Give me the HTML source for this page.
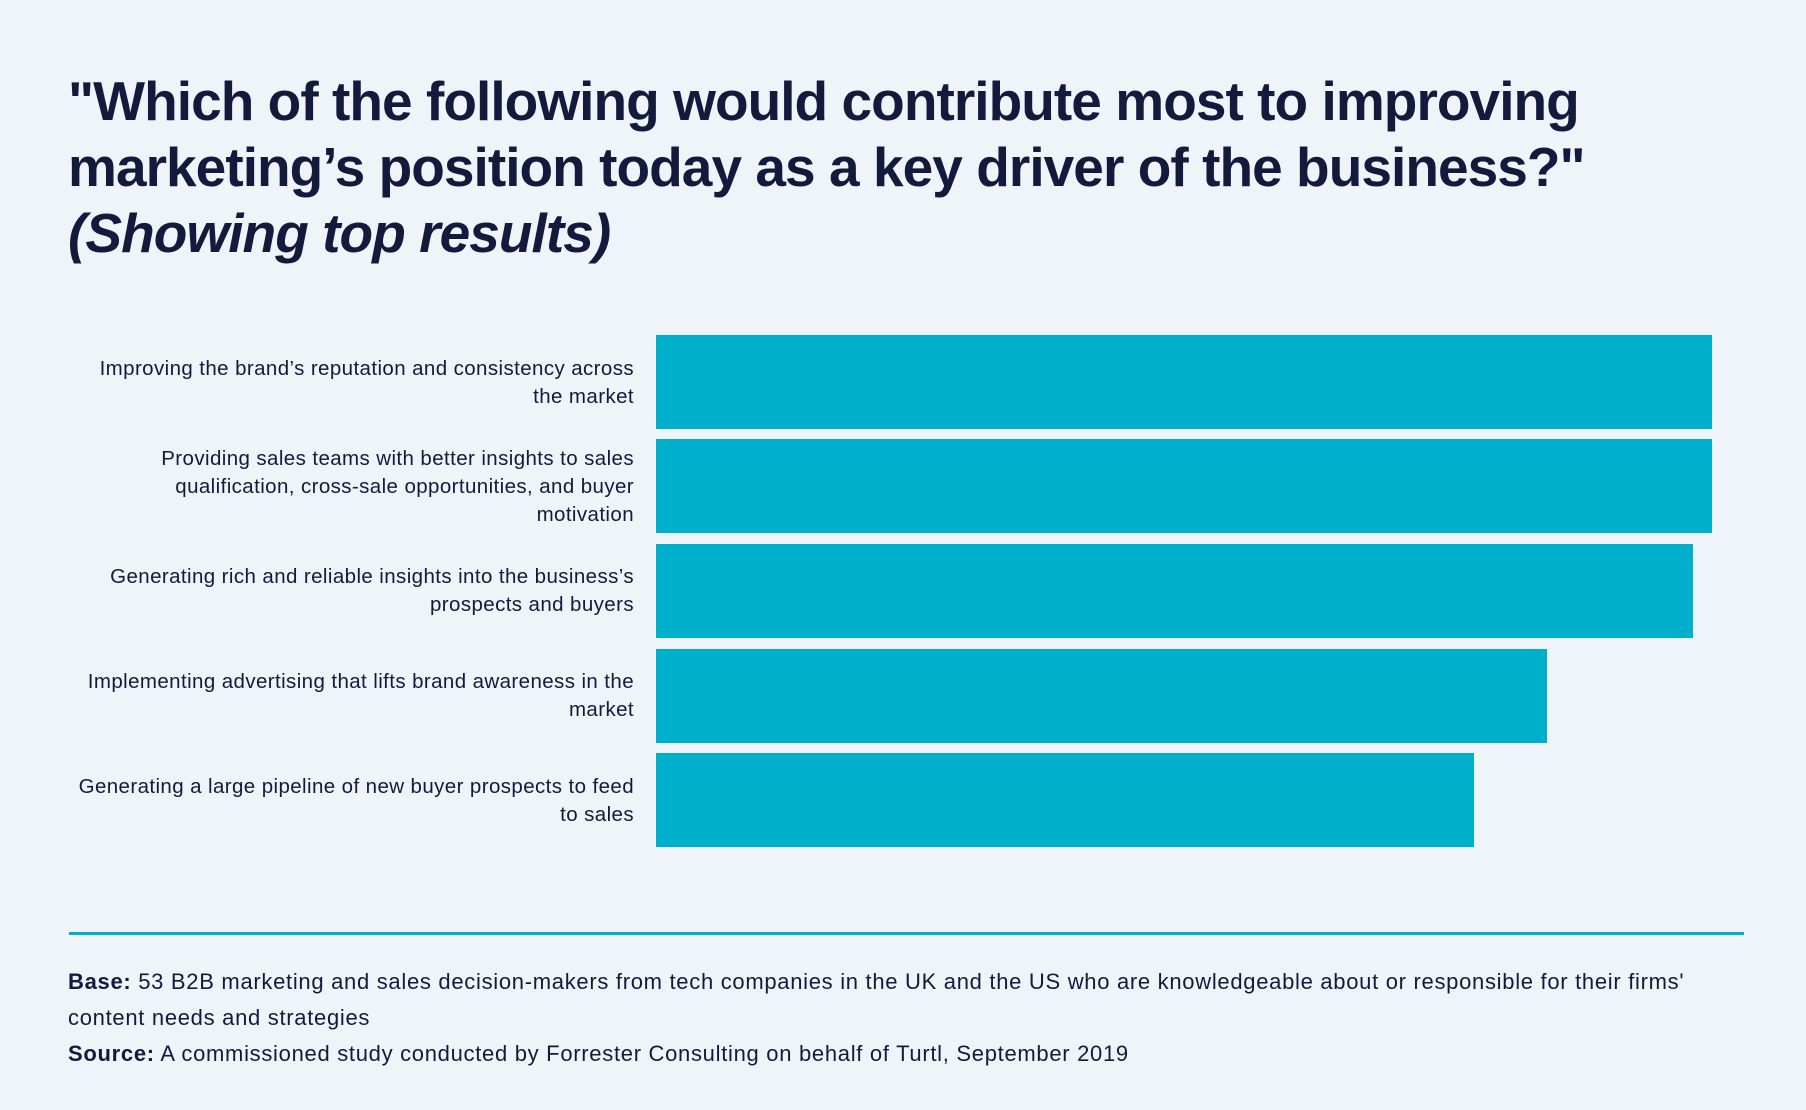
<!DOCTYPE html>
<html><head><meta charset="utf-8"><style>
html,body{margin:0;padding:0}
body{width:1806px;height:1110px;background:#eff4f9;position:relative;overflow:hidden;font-family:"Liberation Sans",sans-serif;color:#131a3c}
.t{position:absolute;left:68px;font-weight:bold;font-size:55px;letter-spacing:-0.95px;line-height:66px;white-space:nowrap}
.bar{position:absolute;left:656px;background:#00afcc;height:94px}
.lab{position:absolute;right:1172px;width:640px;text-align:right;font-size:20.5px;letter-spacing:0.4px;line-height:28px}
.f{position:absolute;left:68px;font-size:22px;letter-spacing:0.7px;line-height:36px;width:1720px}
</style></head><body>
<div class="t" style="top:68px">"Which of the following would contribute most to improving</div>
<div class="t" style="top:134px">marketing’s position today as a key driver of the business?"</div>
<div class="t" style="top:200px;font-style:italic">(Showing top results)</div>

<div class="bar" style="top:335px;width:1056px"></div>
<div class="bar" style="top:439px;width:1056px"></div>
<div class="bar" style="top:544px;width:1037px"></div>
<div class="bar" style="top:649px;width:891px"></div>
<div class="bar" style="top:753px;width:818px"></div>

<div class="lab" style="top:355px">Improving the brand’s reputation and consistency across<br>the market</div>
<div class="lab" style="top:445px">Providing sales teams with better insights to sales<br>qualification, cross-sale opportunities, and buyer<br>motivation</div>
<div class="lab" style="top:563px">Generating rich and reliable insights into the business’s<br>prospects and buyers</div>
<div class="lab" style="top:668px">Implementing advertising that lifts brand awareness in the<br>market</div>
<div class="lab" style="top:773px">Generating a large pipeline of new buyer prospects to feed<br>to sales</div>

<div style="position:absolute;left:69px;top:932px;width:1675px;height:3px;background:#00afcc"></div>
<div class="f" style="top:964px"><b>Base:</b> 53 B2B marketing and sales decision-makers from tech companies in the UK and the US who are knowledgeable about or responsible for their firms'<br>content needs and strategies<br><b>Source:</b> A commissioned study conducted by Forrester Consulting on behalf of Turtl, September 2019</div>
</body></html>
